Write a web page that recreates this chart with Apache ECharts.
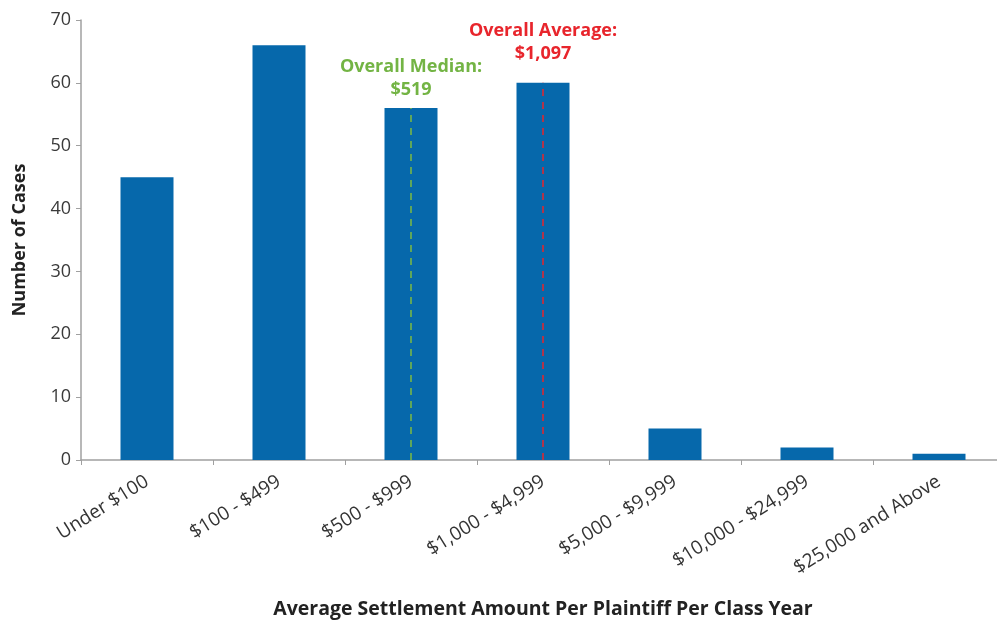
<!DOCTYPE html>
<html><head><meta charset="utf-8">
<script src="https://cdn.jsdelivr.net/npm/echarts@6/dist/echarts.min.js"></script>
<style>html,body{margin:0;padding:0;background:#fff}#c{width:997px;height:620px}</style>
</head><body><div id="c"></div>
<script>
const categories = ["Under $100", "$100 - $499", "$500 - $999", "$1,000 - $4,999", "$5,000 - $9,999", "$10,000 - $24,999", "$25,000 and Above"];
const caseCounts = [45, 66, 56, 60, 5, 2, 1];
const yTicks = [0, 10, 20, 30, 40, 50, 60, 70];
const medianCategory = 2, medianLabel = "Overall Median:\n$519";
const averageCategory = 3, averageLabel = "Overall Average:\n$1,097";

const font = "'Open Sans', 'Noto Sans', sans-serif";
const chart = echarts.init(document.getElementById('c'));
chart.setOption({
  animation: false,
  grid: { left: 81, top: 20, width: 924, height: 440, outerBoundsMode: 'none', containLabel: false },
  xAxis: {
    type: 'category', data: categories,
    name: 'Average Settlement Amount Per Plaintiff Per Class Year',
    nameLocation: 'middle', nameGap: 139,
    nameTextStyle: { fontFamily: font, fontWeight: 'bold', fontSize: 19.5, color: '#222' },
    axisLine: { lineStyle: { color: '#A0A0A0', width: 1.5 } },
    axisTick: { show: true, length: 5, lineStyle: { color: '#A0A0A0' }, alignWithLabel: false },
    axisLabel: { rotate: 32, fontFamily: font, fontSize: 19, color: '#333', margin: 20, interval: 0 }
  },
  yAxis: {
    type: 'value', min: yTicks[0], max: yTicks[yTicks.length - 1], interval: 10,
    name: 'Number of Cases', nameLocation: 'middle', nameGap: 52,
    nameTextStyle: { fontFamily: font, fontWeight: 'bold', fontSize: 18, color: '#222' },
    axisLine: { show: true, lineStyle: { color: '#A0A0A0', width: 1.5 } },
    axisTick: { show: true, length: 5, lineStyle: { color: '#A0A0A0' } },
    axisLabel: { fontFamily: font, fontSize: 18, color: '#3a3a3a', margin: 10 },
    splitLine: { show: false }
  },
  series: [{
    type: 'bar', data: caseCounts, barWidth: 53,
    itemStyle: { color: '#0668AB' },
    markLine: {
      symbol: 'none', silent: true,
      data: [
        [{ coord: [medianCategory, 0], lineStyle: { color: '#7DBB42', type: [7, 6], width: 1.5 },
           label: { show: true, position: 'end', formatter: medianLabel, color: '#73B444', distance: 7 } },
         { coord: [medianCategory, caseCounts[medianCategory]] }],
        [{ coord: [averageCategory, 0], lineStyle: { color: '#E8252C', type: [7, 6], width: 1.5 },
           label: { show: true, position: 'end', formatter: averageLabel, color: '#E8252C', distance: 17 } },
         { coord: [averageCategory, caseCounts[averageCategory]] }]
      ],
      label: { fontFamily: font, fontWeight: 'bold', fontSize: 18, lineHeight: 23, align: 'center' }
    }
  }]
});
</script></body></html>
